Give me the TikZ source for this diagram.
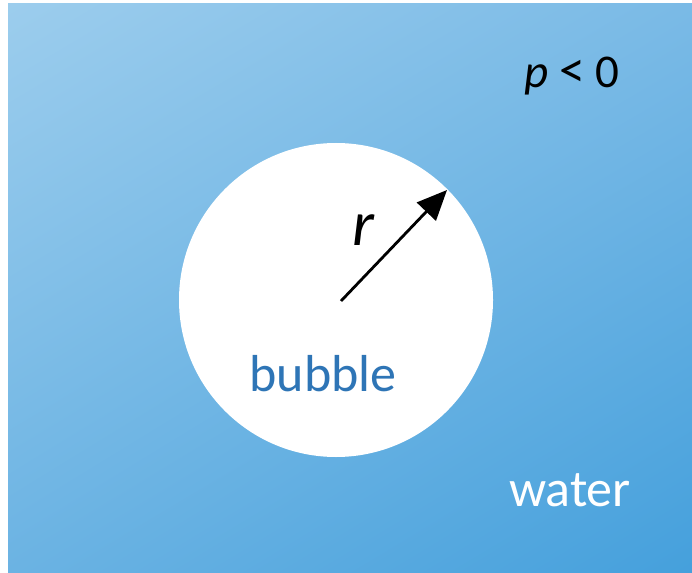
\documentclass[tikz,border=0pt]{standalone}
\usepackage{fontspec}
\setmainfont{Carlito}
\usetikzlibrary{arrows.meta,shadings}
\definecolor{cUL}{HTML}{9CCDED}
\definecolor{cUR}{HTML}{7ABAE6}
\definecolor{cLL}{HTML}{6BB3E3}
\definecolor{cLR}{HTML}{45A0DC}
\definecolor{bubblecol}{HTML}{2E75B6}
\tikzset{
  lbl/.style={inner sep=0pt, font=\fontsize{52}{60}\selectfont},
}
\begin{document}
\begin{tikzpicture}[x=1pt,y=-1pt]
\useasboundingbox (0,0) rectangle (692,572);
\shade[upper left=cUL, upper right=cUR, lower left=cLL, lower right=cLR] (8,4) rectangle (692,572);
\fill[white] (336,300) circle[radius=157];
\coordinate (c) at (341,301);
\coordinate (e) at (447,190);
\draw[line width=2.8pt, -{Triangle[length=30pt,width=26pt]}] (c) -- (e);
\node[lbl, font=\fontsize{64}{72}\selectfont\itshape] (r) at (363,230) {r};
\node[lbl, text=bubblecol] (bub) at (323,374) {bubble};
\node[lbl, text=white] (wat) at (570,490) {water};
\node[lbl, font=\fontsize{47}{54}\selectfont] (p) at (572,76) {\textit{p} {\fontsize{52}{54}\selectfont<} 0};
\end{tikzpicture}
\end{document}
